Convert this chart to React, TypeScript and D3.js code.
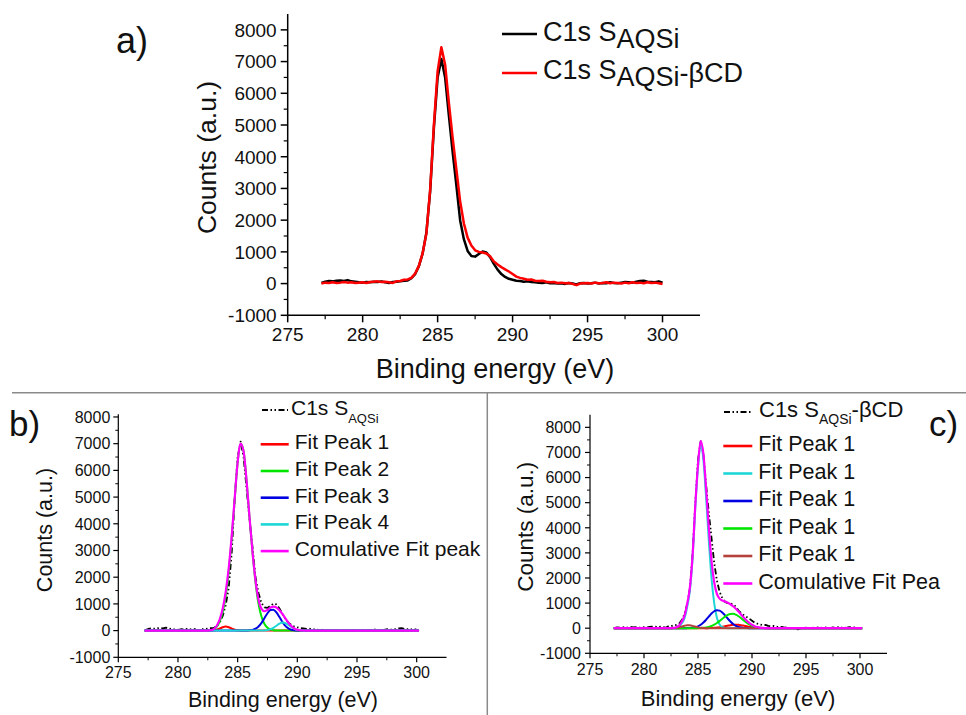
import React from "react";
import * as d3 from "d3";

const W = 966;
const H = 715;
const FONT = "'Liberation Sans', Arial, sans-serif";

// ---- raw spectra (binding energy, eV) ----
const RAW_E = [
  277.25, 277.5, 277.75,
  278, 278.25, 278.5, 278.75, 279, 279.25, 279.5, 279.75, 280, 280.25, 280.5, 280.75,
  281, 281.25, 281.5, 281.75, 282, 282.25, 282.5, 282.75, 283, 283.25, 283.5, 283.75,
  284, 284.25, 284.5, 284.75, 285, 285.25, 285.5, 285.75, 286, 286.25, 286.5, 286.75,
  287, 287.25, 287.5, 287.75, 288, 288.25, 288.5, 288.75, 289, 289.25, 289.5, 289.75,
  290, 290.25, 290.5, 290.75, 291, 291.25, 291.5, 291.75, 292, 292.25, 292.5, 292.75,
  293, 293.25, 293.5, 293.75, 294, 294.25, 294.5, 294.75, 295, 295.25, 295.5, 295.75,
  296, 296.25, 296.5, 296.75, 297, 297.25, 297.5, 297.75, 298, 298.25, 298.5, 298.75,
  299, 299.25, 299.5, 299.75, 300,
];

// C1s S_AQSi
const RAW_AQSI = [
  20, 60, 80,
  70, 90, 100, 80, 110, 70, 60, 40, 30, 50, 40, 60,
  50, 70, 40, 20, 50, 60, 70, 90, 100, 170, 300, 550,
  950, 1600, 2900, 4900, 6500, 7080, 6500, 5300, 4150, 3100, 2000, 1400,
  1030, 870, 850, 930, 1010, 980, 830, 620, 440, 300, 210, 150,
  120, 90, 80, 60, 70, 50, 40, 30, 20, 40, 10, 20,
  0, 10, -10, 20, 0, -30, 10, 20, 0, 10, 30, 0,
  20, 10, 40, 20, 10, 30, 50, 40, 30, 60, 80, 90,
  60, 50, 40, 70, 30,
];

// C1s S_AQSi-βCD
const RAW_CD = [
  0, 30, 20,
  40, 20, 30, 50, 30, 40, 20, 30, 40, 20, 50, 60,
  70, 50, 60, 40, 20, 70, 80, 120, 130, 180, 320, 560,
  960, 1580, 2950, 5000, 6700, 7450, 6900, 5700, 4600, 3600, 2600, 1900,
  1450, 1200, 1050, 1000, 980, 950, 860, 700, 600, 520, 450, 380,
  300, 220, 180, 150, 120, 130, 90, 80, 90, 60, 40, 50,
  20, 30, 10, 20, -10, -50, 0, 10, 20, 0, 30, 10,
  20, 40, 10, 30, 20, 0, 30, 10, 40, 20, 30, 10,
  40, 20, 30, 10, -10,
];

// ---- fitted components (grid 282.5 .. 291.5 eV) ----
const FIT_GRID = [
  282.5, 282.75, 283, 283.25, 283.5, 283.75, 284, 284.25, 284.5, 284.75,
  285, 285.25, 285.5, 285.75, 286, 286.25, 286.5, 286.75, 287, 287.25,
  287.5, 287.75, 288, 288.25, 288.5, 288.75, 289, 289.25, 289.5, 289.75,
  290, 290.25, 290.5, 290.75, 291, 291.25, 291.5,
];
const FIT_START = 277.2;
const FIT_END = 300.2;

// panel b
const B_PEAK1 = [0, 2, 9, 32, 75, 126, 150, 126, 75, 32, 9, 2, 0, 0, 0, 0, 0, 0, 0, 0, 0, 0, 0, 0, 0, 0, 0, 0, 0, 0, 0, 0, 0, 0, 0, 0, 0];
const B_PEAK2 = [0, 15, 50, 150, 350, 700, 1300, 2200, 3450, 4900, 6300, 7000, 6700, 5600, 4200, 2900, 1800, 1000, 520, 250, 110, 45, 15, 5, 0, 0, 0, 0, 0, 0, 0, 0, 0, 0, 0, 0, 0];
const B_PEAK3 = [0, 0, 0, 0, 0, 0, 0, 0, 0, 0, 0, 0, 1, 3, 9, 28, 71, 155, 291, 469, 649, 769, 780, 679, 507, 324, 178, 84, 34, 12, 3, 1, 0, 0, 0, 0, 0];
const B_PEAK4 = [0, 0, 0, 0, 0, 0, 0, 0, 0, 0, 0, 0, 0, 0, 0, 0, 0, 0, 2, 6, 19, 49, 105, 183, 259, 299, 281, 215, 134, 68, 28, 10, 3, 0, 0, 0, 0];
const B_CUMUL = [0, 17, 59, 182, 425, 826, 1450, 2326, 3525, 4932, 6309, 7002, 6701, 5603, 4209, 2928, 1871, 1155, 813, 725, 778, 863, 900, 867, 766, 623, 459, 299, 168, 80, 31, 11, 3, 0, 0, 0, 0];

// panel c
const C_PEAK_RED = [0, 0, 0, 0, 0, 0, 0, 0, 0, 0, 0, 0, 0, 0, 4, 8, 14, 24, 39, 57, 79, 101, 121, 135, 140, 135, 121, 101, 79, 57, 39, 24, 14, 8, 4, 2, 0];
const C_PEAK_CYAN = [0, 5, 20, 70, 200, 400, 850, 1500, 2800, 4800, 6400, 7300, 6700, 5200, 3500, 2000, 1000, 420, 150, 45, 12, 0, 0, 0, 0, 0, 0, 0, 0, 0, 0, 0, 0, 0, 0, 0, 0];
const C_PEAK_BLUE = [0, 0, 0, 0, 0, 0, 3, 8, 18, 39, 76, 136, 223, 335, 462, 584, 676, 719, 700, 626, 513, 385, 265, 168, 97, 52, 25, 11, 5, 2, 1, 0, 0, 0, 0, 0, 0];
const C_PEAK_GREEN = [0, 0, 0, 0, 0, 0, 0, 0, 0, 0, 3, 7, 14, 28, 51, 87, 138, 206, 288, 376, 461, 529, 568, 572, 539, 476, 393, 305, 221, 150, 96, 57, 32, 17, 8, 4, 2];
const C_PEAK_WINE = [2, 6, 16, 37, 66, 98, 118, 116, 92, 60, 32, 14, 5, 1, 0, 0, 0, 0, 0, 0, 0, 0, 0, 0, 0, 0, 0, 0, 0, 0, 0, 0, 0, 0, 0, 0, 0];
const C_CUMUL = [2, 11, 36, 107, 266, 498, 971, 1624, 2910, 4899, 6511, 7457, 6942, 5564, 4017, 2679, 1828, 1369, 1177, 1104, 1065, 1015, 954, 875, 776, 663, 539, 417, 305, 209, 136, 81, 46, 25, 12, 6, 2];

// ---- ticks ----
const X_MAJOR = [275, 280, 285, 290, 295, 300];
const X_MINOR = [277.5, 282.5, 287.5, 292.5, 297.5];
const Y_MAJOR = [-1000, 0, 1000, 2000, 3000, 4000, 5000, 6000, 7000, 8000];
const Y_MINOR = [-500, 500, 1500, 2500, 3500, 4500, 5500, 6500, 7500];

const FIT_E = [FIT_START, ...FIT_GRID, FIT_END];
const pad = (a: number[]) => [0, ...a, 0];

type S = { e: number[]; v: number[]; color: string; w: number; dash?: string; smooth?: boolean };

type PanelProps = {
  xr: [number, number];
  yr: [number, number];
  yMax: number;
  tickFont: number;
  labelGap: number;
  xLabelDy: number;
  major: number;
  minor: number;
  axisW: number;
  series: S[];
};

function Panel(p: PanelProps) {
  const x = d3.scaleLinear().domain([275, 302.5]).range(p.xr);
  const y = d3.scaleLinear().domain([-1000, p.yMax]).range(p.yr);
  const x0 = p.xr[0];
  const yb = p.yr[0];
  return (
    <g>
      {p.series.map((s, k) => {
        const gen = d3
          .line<number>()
          .x((_, i) => x(s.e[i]))
          .y((v) => y(v))
          .curve(s.smooth ? d3.curveMonotoneX : d3.curveLinear);
        return (
          <path
            key={k}
            d={gen(s.v) || ""}
            fill="none"
            stroke={s.color}
            strokeWidth={s.w}
            strokeDasharray={s.dash}
            strokeLinejoin="round"
          />
        );
      })}
      <line x1={x0} y1={p.yr[1]} x2={x0} y2={yb} stroke="#000" strokeWidth={p.axisW} />
      <line x1={x0} y1={yb} x2={p.xr[1]} y2={yb} stroke="#000" strokeWidth={p.axisW} />
      {Y_MAJOR.map((t) => (
        <g key={"ym" + t}>
          <line x1={x0 - p.major} x2={x0} y1={y(t)} y2={y(t)} stroke="#000" strokeWidth={p.axisW} />
          <text
            x={x0 - p.labelGap}
            y={y(t)}
            dy="0.36em"
            textAnchor="end"
            fontSize={p.tickFont}
            fontFamily={FONT}
            fill="#111"
          >
            {t}
          </text>
        </g>
      ))}
      {Y_MINOR.map((t) => (
        <line key={"yn" + t} x1={x0 - p.minor} x2={x0} y1={y(t)} y2={y(t)} stroke="#000" strokeWidth={p.axisW * 0.8} />
      ))}
      {X_MAJOR.map((t) => (
        <g key={"xm" + t}>
          <line x1={x(t)} x2={x(t)} y1={yb} y2={yb + p.major} stroke="#000" strokeWidth={p.axisW} />
          <text
            x={x(t)}
            y={yb + p.xLabelDy}
            textAnchor="middle"
            fontSize={p.tickFont}
            fontFamily={FONT}
            fill="#111"
          >
            {t}
          </text>
        </g>
      ))}
      {X_MINOR.map((t) => (
        <line key={"xn" + t} x1={x(t)} x2={x(t)} y1={yb} y2={yb + p.minor} stroke="#000" strokeWidth={p.axisW * 0.8} />
      ))}
    </g>
  );
}

const C_RED = "#ff0000";
const C_GREEN = "#00e600";
const C_BLUE = "#0000e0";
const C_CYAN = "#1ed6d6";
const C_MAG = "#ff00ff";
const C_WINE = "#b5423a";
const DATA_DASH = "6,2.5,1.5,2.5,1.5,2.5";

function LegendRow({ x, y, color, label, fs, w = 2.6, len = 28 }: any) {
  return (
    <g>
      <line x1={x} x2={x + len} y1={y - 5} y2={y - 5} stroke={color} strokeWidth={w} />
      <text x={x + len + 6} y={y} fontSize={fs} fontFamily={FONT} fill="#111">
        {label}
      </text>
    </g>
  );
}

export default function App() {
  const legB = ["Fit Peak 1", "Fit Peak 2", "Fit Peak 3", "Fit Peak 4", "Comulative Fit peak"];
  const colB = [C_RED, C_GREEN, C_BLUE, C_CYAN, C_MAG];
  const legC = ["Fit Peak 1", "Fit Peak 1", "Fit Peak 1", "Fit Peak 1", "Fit Peak 1", "Comulative Fit Pea"];
  const colC = [C_RED, C_CYAN, C_BLUE, C_GREEN, C_WINE, C_MAG];
  return (
    <svg
      width={W}
      height={H}
      viewBox={`0 0 ${W} ${H}`}
      style={{ position: "absolute", left: 0, top: 0, background: "#fff" }}
    >
      <rect x={0} y={0} width={W} height={H} fill="#fff" />

      {/* ---------- panel a ---------- */}
      <Panel
        xr={[287.7, 700]}
        yr={[315.3, 14]}
        yMax={8500}
        tickFont={19}
        labelGap={11}
        xLabelDy={26}
        major={7}
        minor={4}
        axisW={1.5}
        series={[
          { e: RAW_E, v: RAW_AQSI, color: "#000", w: 2.5 },
          { e: RAW_E, v: RAW_CD, color: C_RED, w: 2.5 },
        ]}
      />
      <text transform="translate(216,157.5) rotate(-90)" textAnchor="middle" fontSize={26.5} fontFamily={FONT} fill="#111">
        Counts (a.u.)
      </text>
      <text x={495} y={378} textAnchor="middle" fontSize={27} fontFamily={FONT} fill="#111">
        Binding energy (eV)
      </text>
      <text x={116} y={53} fontSize={36} fontFamily={FONT} fill="#111">
        a)
      </text>
      <line x1={502} x2={537} y1={34} y2={34} stroke="#000" strokeWidth={2.5} />
      <text x={543} y={41} fontSize={27} fontFamily={FONT} fill="#111">
        C1s S<tspan dy={7}>AQSi</tspan>
      </text>
      <line x1={502} x2={537} y1={73} y2={73} stroke={C_RED} strokeWidth={2.5} />
      <text x={543} y={79} fontSize={27} fontFamily={FONT} fill="#111">
        C1s S<tspan dy={7}>AQSi</tspan>
        <tspan dy={-4}>-βCD</tspan>
      </text>

      {/* separators */}
      <line x1={12} x2={966} y1={392.7} y2={392.7} stroke="#8a8a8a" strokeWidth={1.5} />
      <line x1={487.3} x2={487.3} y1={392.7} y2={715} stroke="#8a8a8a" strokeWidth={1.5} />

      {/* ---------- panel b ---------- */}
      <Panel
        xr={[118.3, 446.5]}
        yr={[657.3, 414.3]}
        yMax={8100}
        tickFont={16}
        labelGap={8}
        xLabelDy={21}
        major={5}
        minor={3}
        axisW={1.2}
        series={[
          { e: RAW_E, v: RAW_AQSI, color: "#000", w: 1.8, dash: DATA_DASH },
          { e: FIT_E, v: pad(B_PEAK1), color: C_RED, w: 2, smooth: true },
          { e: FIT_E, v: pad(B_PEAK2), color: C_GREEN, w: 2, smooth: true },
          { e: FIT_E, v: pad(B_PEAK3), color: C_BLUE, w: 2, smooth: true },
          { e: FIT_E, v: pad(B_PEAK4), color: C_CYAN, w: 2, smooth: true },
          { e: FIT_E, v: pad(B_CUMUL), color: C_MAG, w: 2.2, smooth: true },
        ]}
      />
      <text transform="translate(52,530) rotate(-90)" textAnchor="middle" fontSize={21.5} fontFamily={FONT} fill="#111">
        Counts (a.u.)
      </text>
      <text x={283} y={707} textAnchor="middle" fontSize={21.5} fontFamily={FONT} fill="#111">
        Binding energy (eV)
      </text>
      <text x={9} y={436} fontSize={35} fontFamily={FONT} fill="#111">
        b)
      </text>
      <line x1={262} x2={288} y1={410} y2={410} stroke="#000" strokeWidth={2} strokeDasharray={DATA_DASH} />
      <text x={291} y={415} fontSize={21} fontFamily={FONT} fill="#111">
        C1s S<tspan fontSize={13} dy={8}>AQSi</tspan>
      </text>
      {legB.map((l, i) => (
        <LegendRow key={i} x={260.7} y={449.3 + i * 26.7} color={colB[i]} label={l} fs={21} />
      ))}

      {/* ---------- panel c ---------- */}
      <Panel
        xr={[590, 887]}
        yr={[653.3, 414.8]}
        yMax={8500}
        tickFont={16}
        labelGap={9}
        xLabelDy={22}
        major={5}
        minor={3}
        axisW={1.2}
        series={[
          { e: RAW_E, v: RAW_CD, color: "#000", w: 1.8, dash: DATA_DASH },
          { e: FIT_E, v: pad(C_PEAK_RED), color: C_RED, w: 2, smooth: true },
          { e: FIT_E, v: pad(C_PEAK_CYAN), color: C_CYAN, w: 2, smooth: true },
          { e: FIT_E, v: pad(C_PEAK_BLUE), color: C_BLUE, w: 2, smooth: true },
          { e: FIT_E, v: pad(C_PEAK_GREEN), color: C_GREEN, w: 2, smooth: true },
          { e: FIT_E, v: pad(C_PEAK_WINE), color: C_WINE, w: 2, smooth: true },
          { e: FIT_E, v: pad(C_CUMUL), color: C_MAG, w: 2.2, smooth: true },
        ]}
      />
      <text transform="translate(532.7,526.7) rotate(-90)" textAnchor="middle" fontSize={22.5} fontFamily={FONT} fill="#111">
        Counts (a.u.)
      </text>
      <text x={738} y={706} textAnchor="middle" fontSize={22} fontFamily={FONT} fill="#111">
        Binding energy (eV)
      </text>
      <text x={929} y={436} fontSize={35} fontFamily={FONT} fill="#111">
        c)
      </text>
      <line x1={724} x2={752} y1={412} y2={412} stroke="#000" strokeWidth={2} strokeDasharray={DATA_DASH} />
      <text x={759} y={416.7} fontSize={22} fontFamily={FONT} fill="#111">
        C1s S<tspan fontSize={14} dy={7}>AQSi</tspan>
        <tspan fontSize={22} dy={-7}>-βCD</tspan>
      </text>
      {legC.map((l, i) => (
        <LegendRow key={i} x={723.3} y={451 + i * 27.5} color={colC[i]} label={l} fs={21.5} len={29} />
      ))}
    </svg>
  );
}
